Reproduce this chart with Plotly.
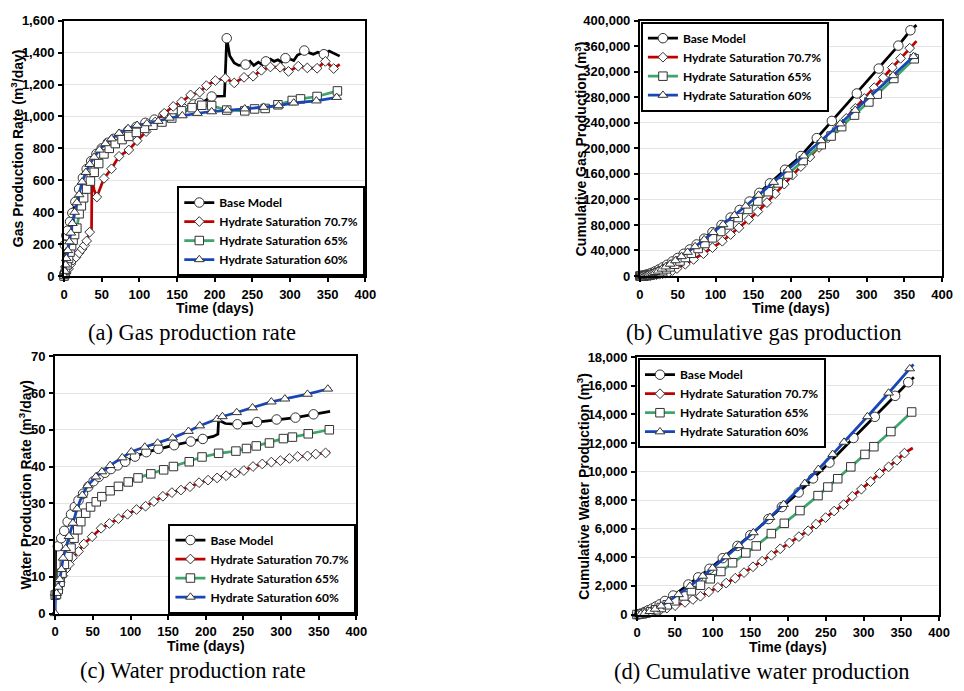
import plotly.graph_objects as go

# ------------------------------------------------------------------ data
SERIES_NAMES = ["Base Model", "Hydrate Saturation 70.7%", "Hydrate Saturation 65%", "Hydrate Saturation 60%"]
X_TICKS = [0, 50, 100, 150, 200, 250, 300, 350, 400]

# (a) Gas production rate (m3/day)
A_BASE_T = [0, 1, 3, 5, 8, 11, 15, 20, 25, 30, 36, 43, 50, 58, 66, 75, 85, 96, 108, 120, 132, 145, 158, 165, 172,
            180, 188, 196, 205, 213, 216, 220, 226, 232, 241, 247, 252, 258, 263, 268, 274, 279, 284, 289, 294,
            300, 305, 310, 315, 319, 325, 331, 337, 345, 352, 358, 366]
A_BASE_V = [0, 195, 255, 285, 340, 395, 465, 545, 615, 670, 720, 765, 800, 835, 860, 885, 910, 935, 960, 980, 1005,
            1030, 1050, 1065, 1075, 1085, 1100, 1125, 1125, 1128, 1490, 1380, 1335, 1320, 1325, 1345, 1320, 1340,
            1325, 1345, 1360, 1345, 1355, 1340, 1365, 1360, 1350, 1385, 1395, 1413, 1400, 1390, 1402, 1390, 1410,
            1395, 1378]
A_BASE_NOMARK = [165, 188, 205, 213, 220, 226, 232, 247, 252, 258, 263, 274, 279, 284, 289, 300, 305, 310, 315,
                 325, 331, 337, 352, 358, 366]

A_S707_T = [0, 1, 3, 6, 9, 12, 16, 20, 24, 27, 30, 34, 36.5, 37, 40, 43.5, 53, 63, 73, 86, 97, 109, 121, 133, 145,
            156, 168, 180, 189, 201, 214, 226, 239, 251, 262, 274, 287, 298, 311, 323, 336, 347, 358, 366]
A_S707_V = [0, 5, 20, 45, 75, 100, 118, 145, 170, 192, 220, 275, 290, 610, 540, 495, 612, 672, 750, 790, 848, 905,
            965, 1020, 1063, 1092, 1135, 1152, 1193, 1225, 1239, 1210, 1245, 1252, 1289, 1310, 1308, 1282, 1315,
            1304, 1302, 1345, 1300, 1326]
A_S707_NOMARK = [36.5, 37, 40, 366]

A_S65_T = [0, 1, 2, 4, 6, 8, 10, 12, 14, 17, 20, 23, 26, 30, 35, 40, 46, 53, 60, 68, 77, 86, 96, 107, 118, 130,
           143, 156, 170, 183, 196, 216, 240, 253, 267, 284, 303, 314, 336, 363]
A_S65_V = [0, 10, 35, 70, 110, 150, 190, 225, 260, 300, 390, 440, 490, 545, 595, 650, 705, 765, 800, 830, 855, 875,
           900, 925, 945, 965, 990, 1035, 1055, 1070, 1068, 1040, 1035, 1047, 1050, 1073, 1100, 1110, 1125, 1160]
A_S65_NOMARK = []

A_S60_T = [0, 1, 2, 3, 5, 7, 9, 11, 14, 17, 20, 24, 29, 34, 40, 47, 55, 63, 73, 85, 97, 110, 125, 140, 157, 177,
           196, 217, 240, 265, 285, 305, 335, 362]
A_S60_V = [0, 30, 70, 110, 160, 215, 270, 330, 400, 460, 510, 590, 650, 700, 745, 790, 830, 860, 895, 925, 945, 955,
           970, 990, 1005, 1020, 1030, 1040, 1048, 1058, 1068, 1085, 1098, 1120]
A_S60_NOMARK = []

# (b) Cumulative gas production (m3)
B_BASE_T = [0, 1, 3, 5, 8, 11, 15, 20, 25, 30, 36, 43, 50, 58, 66, 75, 85, 96, 108, 120, 132, 145, 158, 172, 192,
            213, 234, 254, 287, 316, 342, 358, 366]
B_BASE_V = [0, 100, 550, 1090, 2020, 3130, 4850, 7370, 10270, 13490, 17660, 22850, 28330, 34870, 41650, 49500,
            58480, 68620, 79990, 91630, 103540, 116770, 130290, 145180, 166500, 188000, 216000, 243000, 286000,
            325000, 361000, 385000, 393000]
B_BASE_NOMARK = [366]

B_S707_T = [0, 3, 6, 10, 14, 18, 22, 26, 30, 34, 38, 43, 49, 60, 71, 84, 96, 109, 120, 131, 144, 156, 168, 179,
            191, 202, 213, 225, 237, 249, 261, 273, 285, 297, 310, 322, 334, 345, 357, 366]
B_S707_V = [0, 50, 150, 400, 900, 1500, 2100, 2800, 3600, 4600, 5900, 8600, 11800, 18500, 26000, 35000, 44500,
            54500, 65000, 75500, 88500, 101000, 115000, 129000, 144000, 158000, 171500, 186500, 201500, 216500,
            231500, 247000, 262600, 278200, 295000, 311000, 326500, 341000, 357000, 368000]
B_S707_NOMARK = [366]

B_S65_T = [0, 1, 2, 4, 6, 8, 10, 12, 14, 17, 20, 23, 26, 30, 35, 40, 46, 53, 60, 68, 77, 86, 96, 107, 118, 130,
           143, 156, 170, 183, 196, 216, 240, 253, 267, 284, 303, 314, 336, 363]
B_S65_V = [0, 5, 28, 133, 313, 573, 913, 1330, 1810, 2650, 3690, 4930, 6330, 8400, 11250, 14360, 18430, 23570,
           29050, 35570, 43150, 50940, 59810, 69850, 80140, 91600, 104300, 117500, 132100, 145900, 159800, 180900,
           205800, 219300, 234000, 252100, 272700, 284900, 309500, 340300]
B_S65_NOMARK = []

B_S60_T = [0, 1, 2, 3, 5, 7, 9, 11, 14, 17, 20, 24, 29, 34, 40, 47, 55, 63, 73, 85, 97, 110, 125, 140, 157, 177,
           196, 217, 240, 265, 285, 305, 335, 362, 366]
B_S60_V = [0, 15, 65, 155, 425, 800, 1285, 1885, 2980, 4270, 5730, 7930, 11030, 14400, 18740, 24110, 30590, 37350,
           46130, 57050, 68270, 80620, 95060, 109760, 126720, 146970, 166440, 188180, 212190, 238510, 259770,
           281300, 314050, 344000, 348500]
B_S60_NOMARK = [366]

# (c) Water production rate (m3/day)
C_BASE_T = [0, 0.5, 3.5, 8, 12, 16.5, 21, 26, 31, 37, 44, 51, 58, 66, 74, 83, 93, 106, 121, 137, 158, 180, 196,
            210, 216, 217, 226, 242, 268, 294, 319, 343, 365]
C_BASE_V = [4.5, 17, 18.3, 20.5, 22.5, 25, 27, 29, 30.8, 32.6, 34.5, 36, 37.2, 38.3, 39.3, 40.3, 41.3, 42.7, 43.9,
            44.8, 45.8, 46.8, 47.5, 48.2, 48.8, 52.6, 51.7, 51.5, 52.1, 52.8, 53.3, 54.2, 55.0]
C_BASE_NOMARK = [0, 0.5, 210, 216, 217, 226, 365]

C_S707_T = [0, 1.3, 3.5, 6.5, 10, 14.4, 18.7, 23, 31, 38, 49, 61, 72, 84, 96, 108, 120, 131, 143, 155, 167, 179,
            191, 203, 215, 227, 239, 250.5, 262.7, 275, 287, 299, 311, 322, 335, 346, 359, 365]
C_S707_V = [5, 5, 6.3, 8.5, 10.3, 12.1, 13.4, 15.2, 16.9, 18.9, 20.9, 23.2, 24.5, 25.8, 27.0, 28.3, 29.2, 30.5,
            31.9, 32.9, 33.6, 34.5, 35.6, 36.3, 36.9, 37.5, 38.2, 38.9, 40.0, 40.7, 41.2, 41.6, 42.2, 42.7, 42.9,
            43.4, 43.7, 44.0]
C_S707_NOMARK = [365]

C_S65_T = [0, 1.7, 4, 6.5, 9, 12.2, 17, 21, 25, 30, 34, 40.5, 47, 54.5, 62, 73, 84, 97, 110, 127, 144, 157, 178,
           195, 217, 240, 254, 267, 284.5, 303, 315, 336, 364]
C_S65_V = [5, 5.2, 6.5, 8.5, 11, 13.4, 15.6, 17.8, 20.5, 22.8, 25, 27.3, 29, 30.4, 31.8, 33.4, 34.6, 35.8, 36.9,
           38.0, 39.1, 40.0, 41.3, 42.6, 43.6, 44.2, 44.9, 45.6, 46.4, 47.6, 48.0, 48.9, 50.0]
C_S65_NOMARK = []

C_S60_T = [0, 0.3, 1.7, 3.9, 6.1, 8.3, 10.5, 14, 18.3, 23.5, 29, 36, 43, 54, 62, 73, 89, 101, 119, 136, 156, 177,
           192, 215, 222, 241, 262, 287, 305, 335, 362, 366]
C_S60_V = [0, 5, 5.5, 7.2, 9.3, 12, 15.1, 17.7, 21, 24.6, 28.5, 32.2, 34.8, 37.2, 38.6, 40.3, 42.4, 44, 45.3, 46.4,
           47.8, 49.6, 51.1, 52.9, 53.6, 54.7, 56, 57.6, 58.4, 59.7, 61.1, 61.3]
C_S60_NOMARK = [0.3, 366]

# (d) Cumulative water production (m3)
D_BASE_T = [0, 2, 5, 10, 15, 20, 25, 30, 37, 48, 68, 81, 96, 113.5, 133, 150, 174, 191.7, 214, 233, 254.8, 286.5,
            314.8, 341.7, 359, 366.5]
D_BASE_V = [0, 20, 70, 180, 300, 420, 560, 710, 950, 1330, 2100, 2600, 3200, 3940, 4800, 5550, 6680, 7520, 8540,
            9520, 10630, 12350, 13830, 15300, 16250, 16600]
D_BASE_NOMARK = [366.5]

D_S707_T = [0, 5, 13.5, 22, 31, 39.6, 50.4, 63.5, 74, 84, 95, 107, 118, 130, 141.7, 153.5, 165.6, 177.8, 189.6,
            201.7, 214.3, 226.5, 237, 249.6, 261, 273.5, 285, 297, 309, 321, 333, 344, 354, 365]
D_S707_V = [0, 30, 100, 200, 320, 450, 620, 850, 1050, 1280, 1580, 1900, 2200, 2540, 2930, 3340, 3730, 4140, 4600,
            5010, 5450, 5860, 6320, 6780, 7240, 7690, 8270, 8770, 9300, 9870, 10330, 10790, 11290, 11650]
D_S707_NOMARK = [365]

D_S65_T = [0, 3, 7, 12, 18, 25, 32, 40, 50, 62, 72, 84, 97, 111, 126.5, 144, 157.8, 177.8, 195, 215.7, 239.6,
           252.6, 265.7, 283, 301.7, 313.5, 336, 363.5]
D_S65_V = [0, 20, 40, 100, 200, 330, 490, 680, 960, 1300, 1660, 2050, 2500, 3010, 3620, 4310, 4800, 5660, 6380,
           7270, 8320, 8920, 9500, 10330, 11200, 11740, 12800, 14170]
D_S65_NOMARK = []

D_S60_T = [0, 5, 10, 17, 24, 32, 42, 55, 70, 87, 100, 118, 135, 154, 176, 194, 222, 240, 259, 274, 305, 333, 361,
           366]
D_S60_V = [0, 30, 90, 220, 380, 600, 930, 1400, 1980, 2690, 3250, 4050, 4830, 5730, 6800, 7710, 9180, 10160, 11210,
           12060, 13850, 15500, 17200, 17500]
D_S60_NOMARK = [366]

Y_TITLES = ["Gas Production Rate (m<sup>3</sup>/day)", "Cumulative Gas Production (m<sup>3</sup>)",
            "Water Production Rate (m<sup>3</sup>/day)", "Cumulative Water Production (m<sup>3</sup>)"]
X_TITLE = "Time (days)"
CAPTIONS = ["(a) Gas production rate", "(b) Cumulative gas production",
            "(c) Water production rate", "(d) Cumulative water production"]
Y_RANGES = [(0, 1600, 200), (0, 400000, 40000), (0, 70, 10), (0, 18000, 2000)]

# ------------------------------------------------------------------ style
W, H = 964, 691
COLORS = ["#000000", "#C00000", "#3DA66A", "#1846B4"]
SYMBOLS = ["circle", "diamond", "square", "triangle-up"]
SIZES = [9.5, 7.5, 8.5, 8.5]
# plot areas in pixels: left, right, top, bottom
BOXES = [(61, 367, 14, 275), (646, 953, 14, 275), (52, 358, 357, 620), (643, 950, 358, 621)]
LEGEND_POS = [("right", "bottom"), ("left", "top"), ("right", "bottom"), ("left", "top")]
CAPTION_X = [191, 772, 192, 770]
YTITLE_X = [14, 586, 21, 588]
AX_FONT = "Liberation Sans, Arial, sans-serif"


def fx(x):
    return x / W


def fy(y):
    return 1 - y / H


PANEL_DATA = [
    [(A_BASE_T, A_BASE_V, A_BASE_NOMARK), (A_S707_T, A_S707_V, A_S707_NOMARK),
     (A_S65_T, A_S65_V, A_S65_NOMARK), (A_S60_T, A_S60_V, A_S60_NOMARK)],
    [(B_BASE_T, B_BASE_V, B_BASE_NOMARK), (B_S707_T, B_S707_V, B_S707_NOMARK),
     (B_S65_T, B_S65_V, B_S65_NOMARK), (B_S60_T, B_S60_V, B_S60_NOMARK)],
    [(C_BASE_T, C_BASE_V, C_BASE_NOMARK), (C_S707_T, C_S707_V, C_S707_NOMARK),
     (C_S65_T, C_S65_V, C_S65_NOMARK), (C_S60_T, C_S60_V, C_S60_NOMARK)],
    [(D_BASE_T, D_BASE_V, D_BASE_NOMARK), (D_S707_T, D_S707_V, D_S707_NOMARK),
     (D_S65_T, D_S65_V, D_S65_NOMARK), (D_S60_T, D_S60_V, D_S60_NOMARK)],
]

fig = go.Figure()
layout = dict(width=W, height=H, margin=dict(l=0, r=0, t=0, b=0), paper_bgcolor="white",
              plot_bgcolor="white", showlegend=True, annotations=[])

for p, series in enumerate(PANEL_DATA):
    n = p + 1
    xa, ya = ("x", "y") if n == 1 else (f"x{n}", f"y{n}")
    leg = "legend" if n == 1 else f"legend{n}"
    for k, (t, v, nomark) in enumerate(series):
        line = dict(color=COLORS[k], width=2.75)
        marker = dict(symbol=SYMBOLS[k], size=SIZES[k], color="white",
                      line=dict(color="#333333", width=1))
        fig.add_trace(go.Scatter(x=t, y=v, mode="lines", line=line, xaxis=xa, yaxis=ya,
                                 showlegend=False, hoverinfo="skip"))
        mt = [a for a, b in zip(t, v) if a not in nomark]
        mv = [b for a, b in zip(t, v) if a not in nomark]
        fig.add_trace(go.Scatter(x=mt, y=mv, mode="markers", marker=marker, xaxis=xa, yaxis=ya,
                                 showlegend=False, cliponaxis=False))
        fig.add_trace(go.Scatter(x=[None], y=[None], mode="lines+markers", name=SERIES_NAMES[k],
                                 line=line, marker=marker, xaxis=xa, yaxis=ya, legend=leg))

    l, r, t_, b = BOXES[p]
    y0, y1, dy = Y_RANGES[p]
    axis_common = dict(showline=True, linecolor="black", linewidth=2, mirror=True,
                       ticks="outside", ticklen=4, tickwidth=1.5, tickcolor="black",
                       tickfont=dict(family=AX_FONT, size=13, color="black", weight="bold"),
                       zeroline=False)
    layout["xaxis" if n == 1 else f"xaxis{n}"] = dict(
        axis_common, domain=[fx(l), fx(r)], range=[0, 400], tickvals=X_TICKS, showgrid=False,
        anchor=ya, ticklabelstandoff=1)
    layout["yaxis" if n == 1 else f"yaxis{n}"] = dict(
        axis_common, domain=[fy(b), fy(t_)], range=[y0, y1], dtick=dy, tick0=0, tickformat=",",
        showgrid=True, gridcolor="#e4e4e4", gridwidth=1, anchor=xa, ticklabelstandoff=1)

    xanc, yanc = LEGEND_POS[p]
    layout[leg] = dict(x=fx(r) if xanc == "right" else fx(l + 1), y=fy(b) if yanc == "bottom" else fy(t_ + 1),
                       xanchor=xanc, yanchor=yanc, bgcolor="white", bordercolor="black", borderwidth=2,
                       font=dict(family="Lato, Open Sans, sans-serif", size=12, color="black", weight="bold"),
                       itemwidth=30, tracegroupgap=0)

    cx = (l + r) / 2
    layout["annotations"] += [
        dict(text=X_TITLE, x=fx(cx), y=fy(b + 33), xref="paper", yref="paper", showarrow=False,
             font=dict(family=AX_FONT, size=14, color="black", weight="bold"), xanchor="center", yanchor="middle"),
        dict(text=Y_TITLES[p], x=fx(YTITLE_X[p]), y=fy((t_ + b) / 2), xref="paper", yref="paper",
             showarrow=False, textangle=-90,
             font=dict(family=AX_FONT, size=14, color="black", weight="bold"), xanchor="center", yanchor="middle"),
        dict(text=CAPTIONS[p], x=fx(CAPTION_X[p]), y=fy(b + 58), xref="paper", yref="paper", showarrow=False,
             font=dict(family="Liberation Serif, Times New Roman, serif", size=22.5, color="black"),
             xanchor="center", yanchor="middle"),
    ]

fig.update_layout(**layout)
fig.write_html("out.html")
